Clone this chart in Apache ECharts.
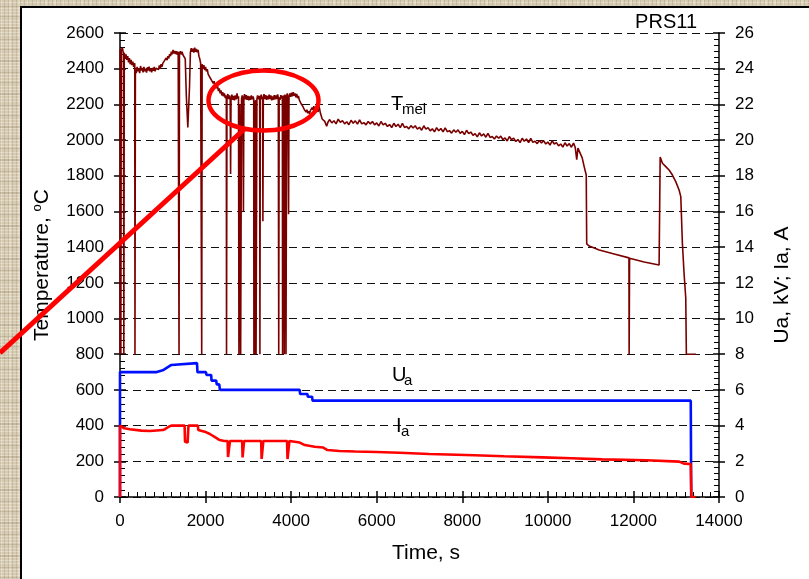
<!DOCTYPE html>
<html>
<head>
<meta charset="utf-8">
<script src="https://cdn.jsdelivr.net/npm/echarts@6/dist/echarts.min.js"></script>
<style>
  html, body { margin: 0; padding: 0; }
  body {
    width: 809px; height: 579px; position: relative; overflow: hidden;
    background-color: #d6cab0;
    background-image:
      repeating-linear-gradient(0deg, rgba(255,255,255,0.28) 0 1px, transparent 1px 3px),
      repeating-linear-gradient(90deg, rgba(110,90,60,0.18) 0 1px, transparent 1px 4px),
      repeating-linear-gradient(0deg, rgba(110,90,60,0.16) 0 2px, transparent 2px 11px),
      repeating-linear-gradient(90deg, rgba(255,255,240,0.25) 0 2px, transparent 2px 9px);
  }
  #panel {
    position: absolute; left: 20px; top: 6px; right: -4px; bottom: -4px;
    background: #fff; border-left: 2px solid #000; border-top: 2px solid #000;
  }
  #chart { position: absolute; left: 0; top: 0; width: 809px; height: 579px; }
</style>
</head>
<body>
<div id="panel"></div>
<div id="chart"></div>
<script>
// ---------- data ----------
const xTicks = [0, 2000, 4000, 6000, 8000, 10000, 12000, 14000];
const tempTicks = [0, 200, 400, 600, 800, 1000, 1200, 1400, 1600, 1800, 2000, 2200, 2400, 2600];
const elecTicks = [0, 2, 4, 6, 8, 10, 12, 14, 16, 18, 20, 22, 24, 26];

// T_mel, time [s] / temperature [°C]
const tmel = [
  [0,800],[5,2510],[15,2470],[20,800],[25,800],[30,2500],[55,2520],[80,2485],[90,800],[95,800],
  [100,2490],[120,2455],[140,2480],[160,2450],[180,2470],[200,2435],[220,2460],[240,2425],[260,2450],
  [280,2420],[300,2440],[320,2410],[345,2430],
  [350,800],[355,800],[360,2405],[380,2375],[400,2410],[420,2385],[440,2400],[460,2375],[480,2415],
  [500,2390],[520,2405],[540,2380],[560,2410],[580,2385],[600,2400],[620,2378],[640,2408],[660,2390],
  [680,2412],[700,2385],[720,2400],[740,2380],[760,2405],[780,2388],[800,2410],[820,2385],[840,2402],
  [860,2392],[880,2412],[900,2395],[920,2418],[940,2400],[960,2425],[980,2410],[1000,2430],[1020,2420],
  [1040,2445],[1060,2435],[1080,2460],[1100,2448],[1120,2470],[1140,2458],[1160,2482],[1180,2470],
  [1200,2495],[1220,2480],[1240,2505],[1260,2485],[1280,2500],[1300,2482],[1320,2498],[1340,2478],
  [1360,2495],[1375,2485],[1380,800],[1385,800],
  [1390,2485],[1410,2498],[1430,2480],[1450,2495],[1470,2478],[1490,2488],[1510,2470],[1525,2455],
  [1550,2250],[1585,2070],[1600,2080],[1625,2300],[1645,2490],[1665,2515],[1685,2495],[1705,2512],
  [1725,2490],[1745,2518],[1765,2495],[1785,2510],[1805,2492],[1825,2505],[1845,2470],[1865,2455],
  [1885,2430],[1905,2440],[1910,800],[1915,800],[1920,2425],[1940,2400],[1960,2420],[1980,2392],
  [2000,2410],[2020,2385],[2040,2398],[2060,2370],[2080,2380],[2100,2352],[2120,2360],[2140,2335],
  [2160,2345],[2180,2318],[2200,2330],[2220,2300],[2240,2312],[2260,2290],[2280,2302],[2300,2275],
  [2320,2290],[2340,2262],[2360,2278],[2380,2250],[2400,2268],[2420,2245],[2440,2262],[2460,2235],
  [2485,2250],[2490,800],[2495,800],[2500,2235],[2520,2258],[2540,2230],[2560,2250],[2575,2225],
  [2585,1810],[2595,2230],[2615,2255],[2635,2225],[2655,2248],[2675,2222],[2695,2250],[2715,2228],
  [2735,2262],[2755,2232],[2770,2245],[2780,800],[2790,800],[2800,2200],[2820,800],[2830,800],
  [2840,2230],[2855,2250],[2870,2232],[2885,1600],[2895,2235],[2910,2258],[2930,2228],[2950,2252],
  [2970,2226],[2990,2248],[3010,2222],[3030,2245],[3050,2225],[3070,2250],[3090,2228],[3110,2245],
  [3125,2230],[3130,800],[3140,800],[3145,2220],[3155,800],[3165,800],[3170,2225],[3180,800],
  [3195,800],[3200,2230],[3215,2250],[3230,2228],[3250,2248],[3265,2230],[3270,800],[3275,800],
  [3280,2235],[3300,2255],[3320,2228],[3335,2240],[3340,1545],[3350,2240],[3365,2258],[3385,2230],
  [3405,2252],[3425,2226],[3445,2248],[3465,2228],[3485,2255],[3505,2230],[3525,2250],[3545,2222],
  [3565,2245],[3585,2225],[3605,2252],[3625,2228],[3645,2250],[3665,2230],[3685,2256],[3700,2235],
  [3710,800],[3715,800],[3720,2240],[3740,2225],[3760,2252],[3780,2232],[3795,2248],[3800,800],
  [3810,800],[3815,2250],[3830,2235],[3840,800],[3850,800],[3855,2255],[3870,2240],[3880,800],
  [3890,800],[3895,2245],[3910,2262],[3925,2240],[3940,1585],[3950,2240],[3970,2262],[3990,2242],
  [4010,2265],[4030,2245],[4050,2268],[4070,2248],[4090,2262],[4110,2240],[4130,2258],[4150,2235],
  [4170,2248],[4190,2225],[4210,2232],[4230,2205],[4250,2215],[4270,2190],[4290,2195],[4310,2170],
  [4330,2178],[4350,2158],[4370,2170],[4390,2150],[4410,2162],[4430,2148],[4450,2165],[4470,2158],
  [4490,2182],[4510,2170],[4530,2190],[4550,2172],[4570,2180],[4590,2160],[4610,2172],[4630,2158],
  [4645,2200],[4665,2175],[4685,2150],[4705,2135],[4725,2118],[4745,2112],[4765,2120],[4785,2105],
  [4805,2112],[4830,2078],[4860,2100],
  [4900,2115],[4950,2096],[5000,2108],[5050,2091],[5100,2117],[5150,2099],[5200,2109],[5250,2091],
  [5300,2103],[5350,2086],[5400,2111],[5450,2094],[5500,2108],[5550,2089],[5600,2113],[5650,2091],
  [5700,2098],[5750,2085],[5800,2104],[5850,2091],[5900,2104],[5950,2085],[6000,2096],[6050,2079],
  [6100,2104],[6150,2085],[6200,2094],[6250,2076],[6300,2087],[6350,2070],[6400,2094],[6450,2076],
  [6500,2089],[6550,2070],[6600,2093],[6650,2071],[6700,2076],[6750,2063],[6800,2081],[6850,2068],
  [6900,2080],[6950,2061],[7000,2072],[7050,2055],[7100,2080],[7150,2061],[7200,2070],[7250,2052],
  [7300,2063],[7350,2046],[7400,2070],[7450,2052],[7500,2065],[7550,2046],[7600,2069],[7650,2047],
  [7700,2053],[7750,2039],[7800,2057],[7850,2044],[7900,2057],[7950,2038],[8000,2049],[8050,2031],
  [8100,2055],[8150,2036],[8200,2045],[8250,2026],[8300,2036],[8350,2018],[8400,2041],[8450,2023],
  [8500,2035],[8550,2016],[8600,2038],[8650,2015],[8700,2020],[8750,2006],[8800,2023],[8850,2010],
  [8900,2022],[8950,2002],[9000,2012],[9050,1995],[9100,2020],[9150,2002],[9200,2011],[9250,1992],
  [9300,2003],[9350,1986],[9400,2010],[9450,1993],[9500,2006],[9550,1986],[9600,2009],[9650,1987],
  [9700,1993],[9750,1980],[9800,1998],[9850,1984],[9900,1997],[9950,1978],[10000,1989],[10050,1972],
  [10100,1996],[10150,1978],[10200,1986],[10250,1968],[10300,1978],[10350,1961],[10400,1985],
  [10450,1967],[10500,1980],[10550,1960],[10600,1983],
  [10640,1958],[10675,1890],[10703,1955],[10733,1944],
  [10803,1900],[10850,1850],[10897,1804],[10908,1418],[10967,1406],[11200,1384],[11550,1362],
  [11895,1340],[11900,800],[11905,800],[11910,1338],[12250,1317],[12600,1300],[12617,1300],
  [12625,1905],[12678,1870],[12756,1851],[12833,1832],[12911,1804],[12989,1767],[13067,1720],
  [13107,1683],[13144,1423],[13183,1255],[13223,1115],[13237,800],[13463,800]
];

// U_a [kV]
const ua = [
  [0,0],[0,7.0],[860,7.0],[870,7.1],[1000,7.1],[1200,7.4],[1210,7.5],[1800,7.5],[1810,7.0],
  [2010,7.0],[2020,6.84],[2130,6.84],[2140,6.52],[2250,6.52],[2260,6.31],[2320,6.31],[2335,6.0],
  [4200,6.0],[4210,5.77],[4380,5.77],[4390,5.62],[4490,5.62],[4500,5.4],[13340,5.4],[13350,0]
];

// I_a
const ia = [
  [0,0],[0,4.0],[100,3.85],[230,3.8],[500,3.72],[700,3.7],[1000,3.75],[1050,3.8],[1150,3.95],
  [1200,4.0],[1510,4.0],[1520,3.1],[1580,3.05],[1600,4.0],[1820,4.0],[1830,3.75],[1980,3.66],
  [2100,3.53],[2220,3.35],[2330,3.19],[2440,3.14],[2515,3.14],[2525,2.24],[2560,2.24],[2570,3.14],
  [2855,3.14],[2865,2.22],[2890,2.22],[2900,3.14],[3300,3.14],[3310,2.13],[3340,2.13],[3350,3.14],
  [3905,3.14],[3915,2.13],[3950,2.13],[3960,3.14],[4200,3.05],[4320,2.91],[4550,2.82],[4750,2.77],
  [4850,2.63],[5130,2.58],[5500,2.55],[6000,2.52],[6530,2.48],[7230,2.41],[8280,2.34],[8980,2.28],
  [9870,2.22],[10550,2.17],[11270,2.11],[12300,2.06],[13070,1.98],[13180,1.87],[13340,1.85],
  [13355,0],[13450,0]
];

// ---------- chart ----------
const FONT = 'Liberation Sans, Arial, sans-serif';
const chart = echarts.init(document.getElementById('chart'), null, { renderer: 'canvas' });

const baseX = { type: 'value', min: 0, max: 14000, interval: 2000, position: 'bottom' };
const baseL = { type: 'value', min: 0, max: 2600, interval: 200, position: 'left' };
const baseR = { type: 'value', min: 0, max: 26, interval: 2, position: 'right' };

chart.setOption({
  animation: false,
  backgroundColor: 'transparent',
  grid: { left: 120, right: 90, top: 33, bottom: 82, containLabel: false },
  xAxis: [
    Object.assign({}, baseX, {
      axisLine: { show: true, onZero: false, lineStyle: { color: '#000', width: 1.5 } },
      axisTick: { show: true, inside: false, length: 6, lineStyle: { color: '#000', width: 1.5 } },
      axisLabel: { show: true, fontSize: 17, color: '#000', fontFamily: FONT, margin: 16,
        formatter: v => xTicks.includes(v) ? String(v) : '' },
      splitLine: { show: false }
    }),
    Object.assign({}, baseX, {
      axisLine: { show: false, onZero: false },
      axisTick: { show: true, inside: true, length: 6, lineStyle: { color: '#000', width: 1.5 } },
      minorTick: { show: true, splitNumber: 10, length: 5, lineStyle: { color: '#000', width: 1 } },
      axisLabel: { show: false }, splitLine: { show: false }
    })
  ],
  yAxis: [
    Object.assign({}, baseL, {
      axisLine: { show: true, onZero: false, lineStyle: { color: '#000', width: 1.5 } },
      axisTick: { show: true, inside: false, length: 6, lineStyle: { color: '#000', width: 1.5 } },
      axisLabel: { show: true, fontSize: 17, color: '#000', fontFamily: FONT, margin: 16,
        formatter: v => tempTicks.includes(v) ? String(v) : '' },
      splitLine: { show: true, lineStyle: { color: '#111', width: 1, type: [8, 5] } }
    }),
    Object.assign({}, baseL, {
      axisLine: { show: false, onZero: false },
      axisTick: { show: true, inside: true, length: 6, lineStyle: { color: '#000', width: 1.5 } },
      minorTick: { show: true, splitNumber: 5, length: 5, lineStyle: { color: '#000', width: 1 } },
      axisLabel: { show: false }, splitLine: { show: false }
    }),
    Object.assign({}, baseR, {
      axisLine: { show: true, onZero: false, lineStyle: { color: '#000', width: 1.5 } },
      axisTick: { show: true, inside: false, length: 6, lineStyle: { color: '#000', width: 1.5 } },
      axisLabel: { show: true, fontSize: 17, color: '#000', fontFamily: FONT, margin: 16,
        formatter: v => elecTicks.includes(v) ? String(v) : '' },
      splitLine: { show: false }
    }),
    Object.assign({}, baseR, {
      axisLine: { show: false, onZero: false },
      axisTick: { show: true, inside: true, length: 6, lineStyle: { color: '#000', width: 1.5 } },
      minorTick: { show: true, splitNumber: 6, length: 5, lineStyle: { color: '#000', width: 1 } },
      axisLabel: { show: false }, splitLine: { show: false }
    })
  ],
  series: [
    { name: 'Tmel', type: 'line', xAxisIndex: 0, yAxisIndex: 0, data: tmel, showSymbol: false,
      symbol: 'none', lineStyle: { color: '#7a0000', width: 1.6 }, z: 3 },
    { name: 'Ua', type: 'line', xAxisIndex: 0, yAxisIndex: 2, data: ua, showSymbol: false,
      symbol: 'none', lineStyle: { color: '#0010ff', width: 2.6 }, z: 4 },
    { name: 'Ia', type: 'line', xAxisIndex: 0, yAxisIndex: 2, data: ia, showSymbol: false,
      symbol: 'none', lineStyle: { color: '#ff0000', width: 2.6 }, z: 5 }
  ],
  graphic: [
    { type: 'text', x: 697, y: 22, style: { text: 'PRS11', font: '20px ' + FONT,
      fill: '#000', textAlign: 'right', textVerticalAlign: 'middle' }, z: 20 },
    { type: 'text', x: 391, y: 104, style: { text: 'T', font: '20px ' + FONT, fill: '#000',
      textAlign: 'left', textVerticalAlign: 'middle' }, z: 20 },
    { type: 'text', x: 402, y: 110, style: { text: 'mel', font: '15px ' + FONT, fill: '#000',
      textAlign: 'left', textVerticalAlign: 'middle' }, z: 20 },
    { type: 'text', x: 392, y: 375, style: { text: 'U', font: '20px ' + FONT, fill: '#000',
      textAlign: 'left', textVerticalAlign: 'middle' }, z: 20 },
    { type: 'text', x: 404, y: 381, style: { text: 'a', font: '15px ' + FONT, fill: '#000',
      textAlign: 'left', textVerticalAlign: 'middle' }, z: 20 },
    { type: 'text', x: 396, y: 426, style: { text: 'I', font: '20px ' + FONT, fill: '#000',
      textAlign: 'left', textVerticalAlign: 'middle' }, z: 20 },
    { type: 'text', x: 401, y: 432, style: { text: 'a', font: '15px ' + FONT, fill: '#000',
      textAlign: 'left', textVerticalAlign: 'middle' }, z: 20 },
    { type: 'text', x: 426, y: 553, style: { text: 'Time, s', font: '21px ' + FONT, fill: '#000',
      textAlign: 'center', textVerticalAlign: 'middle' }, z: 20 },
    { type: 'text', x: 42, y: 265, rotation: Math.PI / 2,
      style: { text: '{n|Temperature, }{s|o}{n|C}', fill: '#000', textAlign: 'center', textVerticalAlign: 'middle',
        rich: { n: { fontSize: 21, fontFamily: FONT, fill: '#000' },
                s: { fontSize: 13, fontFamily: FONT, fill: '#000', verticalAlign: 'top', padding: [0, 0, 9, 0] } } }, z: 20 },
    { type: 'text', x: 782, y: 285, rotation: Math.PI / 2,
      style: { text: 'Ua, kV; Ia, A', font: '21px ' + FONT, fill: '#000', textAlign: 'center',
        textVerticalAlign: 'middle' }, z: 20 },
    { type: 'ellipse', shape: { cx: 263.5, cy: 100.5, rx: 55, ry: 30 },
      style: { fill: null, stroke: '#ff0000', lineWidth: 4.5 }, z: 30 },
    { type: 'line', shape: { x1: 0, y1: 353, x2: 245, y2: 128.5 },
      style: { stroke: '#ff0000', lineWidth: 5 }, z: 30 }
  ]
});
</script>
</body>
</html>
